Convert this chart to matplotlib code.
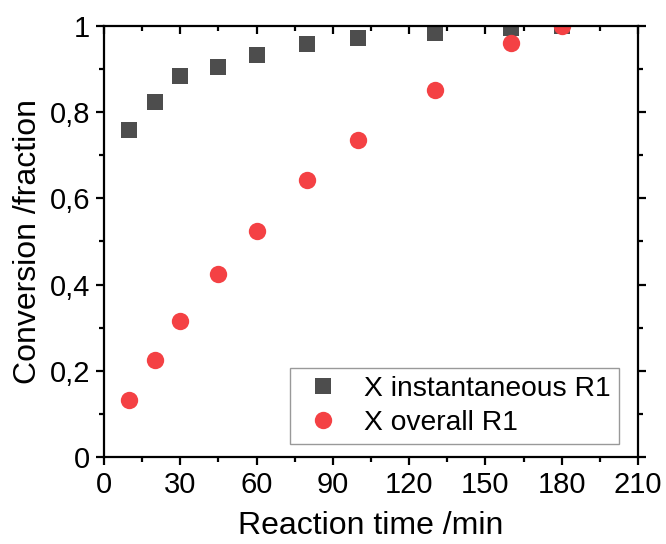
import matplotlib
matplotlib.use("Agg")
import matplotlib.pyplot as plt
from matplotlib.ticker import MultipleLocator, FuncFormatter

plt.rcParams['font.family'] = ['Liberation Sans', 'DejaVu Sans']

time_min = [10, 20, 30, 45, 60, 80, 100, 130, 160, 180]
x_instantaneous = [0.759, 0.824, 0.884, 0.905, 0.933, 0.958, 0.972, 0.984, 0.995, 1.0]
x_overall = [0.132, 0.225, 0.316, 0.425, 0.524, 0.643, 0.736, 0.852, 0.961, 1.0]

fig = plt.figure(figsize=(6.66, 5.44), dpi=100)
ax = fig.add_axes([104/666, 1 - 457/544, (638-104)/666, (457-26)/544])

ax.plot(time_min, x_instantaneous, linestyle='none', marker='s', markersize=11.3,
        color='#4d4d4d', markeredgewidth=0, label='X instantaneous R1')
ax.plot(time_min, x_overall, linestyle='none', marker='o', markersize=12.5,
        color='#f44144', markeredgewidth=0, label='X overall R1')

ax.set_xlim(0, 210)
ax.set_ylim(0, 1)
ax.xaxis.set_major_locator(MultipleLocator(30))
ax.xaxis.set_minor_locator(MultipleLocator(15))
ax.yaxis.set_major_locator(MultipleLocator(0.2))
ax.yaxis.set_minor_locator(MultipleLocator(0.1))

def comma_fmt(v, pos):
    if abs(v) < 1e-9:
        return '0'
    if abs(v - 1) < 1e-9:
        return '1'
    return ('%.1f' % v).replace('.', ',')

ax.yaxis.set_major_formatter(FuncFormatter(comma_fmt))

for s in ax.spines.values():
    s.set_linewidth(1.6)

ax.tick_params(axis='both', which='major', labelsize=21, width=1.6, length=6)
ax.tick_params(axis='both', which='minor', width=1.6, length=3.5)
ax.tick_params(axis='x', which='both', direction='out', top=True)
ax.tick_params(axis='y', which='both', direction='out', right=True)
ax.tick_params(axis='x', which='major', pad=4)
ax.tick_params(axis='y', which='major', pad=4)
# top and right ticks point inward
for t in ax.xaxis.get_major_ticks() + ax.xaxis.get_minor_ticks():
    t.tick2line.set_marker(3)  # TICKDOWN
for t in ax.yaxis.get_major_ticks() + ax.yaxis.get_minor_ticks():
    t.tick2line.set_marker(1)  # TICKLEFT

ax.set_xlabel('Reaction time /min', fontsize=23, labelpad=9)
ax.set_ylabel('Conversion /fraction', fontsize=23, labelpad=5)

leg = ax.legend(loc='lower right', bbox_to_anchor=(0.964, 0.030), fontsize=20.3,
                frameon=True, fancybox=False, edgecolor='#999999', framealpha=1,
                borderaxespad=0, handletextpad=0.6, borderpad=0.3,
                labelspacing=0.27, handlelength=1.7)
leg.get_frame().set_linewidth(1.0)

fig.savefig('out.png', dpi=100)
